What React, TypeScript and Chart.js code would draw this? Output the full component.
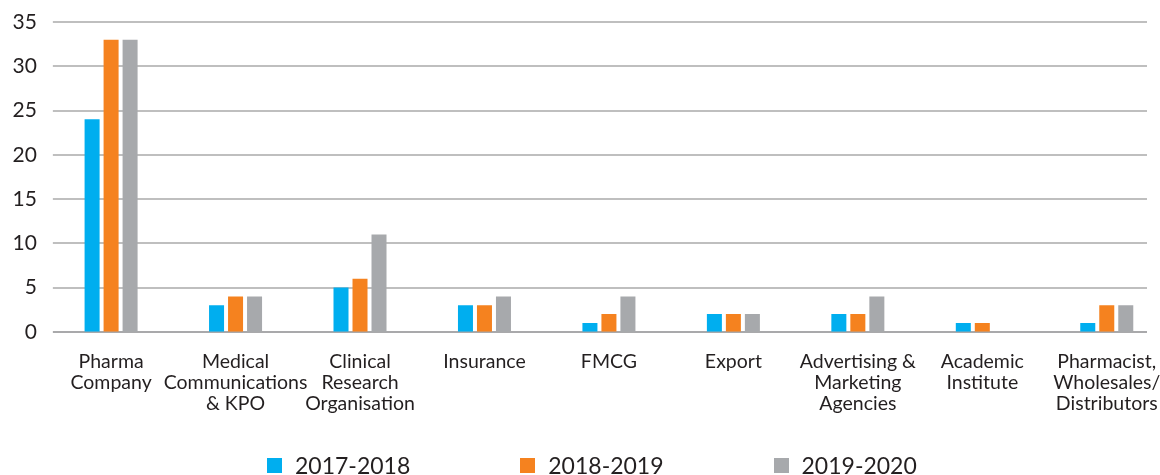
import React, { useEffect, useRef } from "react";
import { Chart, registerables } from "chart.js";

Chart.register(...registerables);

const categories: string[][] = [
  ["Pharma", "Company"],
  ["Medical", "Communications", "& KPO"],
  ["Clinical", "Research", "Organisation"],
  ["Insurance"],
  ["FMCG"],
  ["Export"],
  ["Advertising &", "Marketing", "Agencies"],
  ["Academic", "Institute"],
  ["Pharmacist,", "Wholesales/", "Distributors"],
];

const seriesNames = ["2017-2018", "2018-2019", "2019-2020"];
const values2017: number[] = [24, 3, 5, 3, 1, 2, 2, 1, 1];
const values2018: number[] = [33, 4, 6, 3, 2, 2, 2, 1, 3];
const values2019: number[] = [33, 4, 11, 4, 4, 2, 4, 0, 3];
const seriesColors = ["#00AEEF", "#F5821F", "#A7A9AC"];

const yMin = 0;
const yMax = 35;
const yStep = 5;

const FONT = "Lato, 'Liberation Sans', sans-serif";
const TEXT_COLOR = "#231f20";

const gridPlugin = {
  id: "customGrid",
  beforeDatasetsDraw(chart: any) {
    const { ctx, chartArea, scales } = chart;
    const y = scales.y;
    const left = chartArea.left + 4;
    const right = 1147;
    ctx.save();
    y.ticks.forEach((t: any) => {
      const py = Math.round(y.getPixelForValue(t.value));
      ctx.strokeStyle = t.value === 0 ? "#a9a9ab" : "#bfbfbf";
      ctx.lineWidth = 2;
      ctx.beginPath();
      ctx.moveTo(left, py);
      ctx.lineTo(right, py);
      ctx.stroke();
    });
    ctx.restore();
  },
};

export default function App() {
  const canvasRef = useRef<HTMLCanvasElement | null>(null);

  useEffect(() => {
    if (!canvasRef.current) return;
    const datasets = [values2017, values2018, values2019].map((vals, i) => ({
      label: seriesNames[i],
      data: vals,
      backgroundColor: seriesColors[i],
      borderWidth: 0,
      categoryPercentage: 0.458,
      barPercentage: 0.79,
    }));
    const chart = new Chart(canvasRef.current, {
      type: "bar",
      data: { labels: categories, datasets },
      plugins: [gridPlugin],
      options: {
        responsive: false,
        animation: false,
        devicePixelRatio: 1,
        layout: { padding: { top: 22, left: 0.5, right: 21, bottom: 42 } },
        plugins: {
          legend: { display: false },
          tooltip: { enabled: false },
          title: { display: false },
        },
        scales: {
          x: {
            grid: { display: false, drawTicks: false },
            border: { display: false },
            ticks: {
              autoSkip: false,
              maxRotation: 0,
              minRotation: 0,
              padding: 19,
              color: TEXT_COLOR,
              font: { family: FONT, size: 19.5, lineHeight: 1.08 },
            },
          },
          y: {
            min: yMin,
            max: yMax,
            grid: { display: false, drawTicks: false },
            border: { display: false },
            afterFit(scale: any) {
              scale.paddingTop = 0;
            },
            ticks: {
              stepSize: yStep,
              padding: 12,
              color: TEXT_COLOR,
              font: { family: FONT, size: 21 },
            },
          },
        },
      },
    });
    return () => chart.destroy();
  }, []);

  return (
    <div
      style={{
        position: "absolute",
        left: 0,
        top: 0,
        width: 1160,
        height: 475,
        overflow: "hidden",
        background: "#ffffff",
      }}
    >
      <canvas ref={canvasRef} width={1190} height={475} style={{ display: "block" }} />
      <div
        style={{
          position: "absolute",
          left: 267,
          top: 454,
          display: "flex",
          alignItems: "center",
          gap: 110,
          fontFamily: FONT,
          fontSize: 23,
          lineHeight: "23px",
          color: TEXT_COLOR,
          whiteSpace: "nowrap",
        }}
      >
        {seriesNames.map((name, i) => (
          <div key={name} style={{ display: "flex", alignItems: "center" }}>
            <span
              style={{
                display: "inline-block",
                width: 15,
                height: 15,
                background: seriesColors[i],
                marginRight: 13,
              }}
            />
            <span>{name}</span>
          </div>
        ))}
      </div>
    </div>
  );
}
